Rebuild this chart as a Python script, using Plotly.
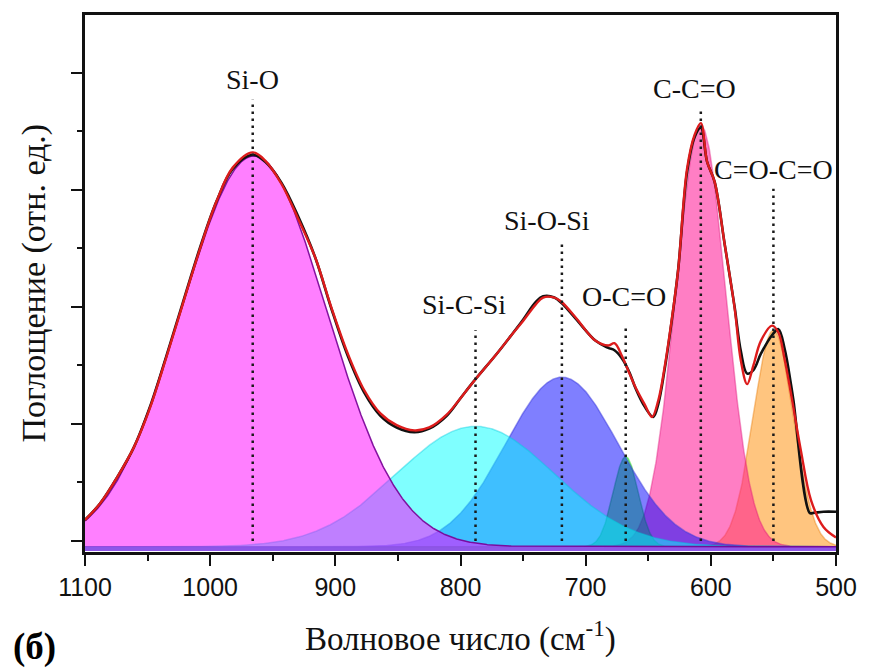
import numpy as np
import plotly.graph_objects as go

# ---------------- data ----------------
# Gaussian components of the peak fit
PEAK_LABELS = ["Si-O", "Si-C-Si", "Si-O-Si", "O-C=O", "C-C=O", "C=O-C=O"]
PEAK_CENTERS = [965, 788, 719, 668, 608, 550]      # cm^-1
PEAK_HEIGHTS = [3.34, 1.03, 1.45, 0.77, 3.60, 1.85]
PEAK_WIDTHS = [58, 63, 45, 10, 20, 16]             # gaussian sigma, cm^-1
MARKER_WN = [966, 788, 719, 668, 608, 550]         # dotted marker positions
COMPONENT_BASE = -0.05
FILL_BASE = -0.085

# fitted envelope (red)
FIT_WN = [1100, 1088, 1074, 1061, 1048, 1035, 1022, 1008, 995, 982, 966, 956, 943, 930,
          916, 903, 890, 877, 864, 851, 837, 825, 811, 800, 789, 771, 760, 750, 740, 734, 725,
          719, 708, 692, 682, 677, 671, 665, 660, 653, 647, 642, 637, 631, 626, 619, 613,
          608, 603, 597, 589, 581, 576, 571, 566, 560, 551, 546, 541, 536, 528, 520, 510, 500]
FIT_VAL = [0.18, 0.32, 0.55, 0.80, 1.14, 1.57, 2.02, 2.50, 2.90, 3.19, 3.32, 3.25, 3.05, 2.76,
           2.42, 1.99, 1.60, 1.29, 1.09, 0.99, 0.945, 0.97, 1.08, 1.22, 1.37, 1.60, 1.75, 1.88, 2.02, 2.08, 2.08,
           2.04, 1.91, 1.71, 1.67, 1.69, 1.58, 1.43, 1.31, 1.17, 1.06, 1.20, 1.48, 1.91, 2.33, 3.18, 3.47,
           3.57, 3.24, 3.07, 2.54, 1.99, 1.54, 1.34, 1.50, 1.71, 1.84, 1.78, 1.55, 1.26, 0.77, 0.35, 0.12, 0.03]

# experimental spectrum (black)
EXP_WN = [1100, 1088, 1074, 1061, 1048, 1035, 1022, 1008, 995, 982, 966, 956, 943, 930,
          916, 903, 890, 877, 864, 851, 837, 825, 811, 800, 789, 771, 760, 750, 740, 734, 725,
          719, 708, 692, 682, 677, 671, 665, 660, 653, 646, 642, 637, 631, 626, 619, 613,
          608, 603, 597, 589, 581, 576, 571, 566, 560, 551, 546, 541, 536, 534, 521, 518, 510, 500]
EXP_VAL = [0.18, 0.32, 0.55, 0.80, 1.15, 1.58, 2.03, 2.51, 2.90, 3.18, 3.30, 3.24, 3.06, 2.78,
           2.42, 1.98, 1.58, 1.27, 1.07, 0.97, 0.93, 0.96, 1.07, 1.22, 1.37, 1.60, 1.75, 1.89, 2.04, 2.09, 2.08,
           2.03, 1.90, 1.71, 1.65, 1.63, 1.56, 1.44, 1.30, 1.15, 1.06, 1.17, 1.46, 1.90, 2.33, 3.15, 3.45,
           3.53, 3.24, 3.07, 2.54, 2.00, 1.62, 1.43, 1.46, 1.60, 1.76, 1.81, 1.64, 1.34, 1.20, 0.24, 0.24, 0.25, 0.25]

# ---------------- styling ----------------
FILL_COLORS = {
    "Si-O": "rgba(255,0,255,0.5)",
    "Si-C-Si": "rgba(0,255,255,0.5)",
    "Si-O-Si": "rgba(0,0,255,0.5)",
    "O-C=O": "rgba(0,255,0,0.5)",
    "C-C=O": "rgba(255,20,147,0.55)",
    "C=O-C=O": "rgba(255,140,0,0.5)",
}
LINE_COLORS = {
    "Si-O": "rgba(120,0,150,0.9)",
    "Si-C-Si": "rgba(0,200,220,0.4)",
    "Si-O-Si": "rgba(60,60,220,0.5)",
    "O-C=O": "rgba(0,200,0,0.4)",
    "C-C=O": "rgba(220,20,120,0.4)",
    "C=O-C=O": "rgba(230,120,0,0.4)",
}
DRAW_ORDER = ["C=O-C=O", "C-C=O", "O-C=O", "Si-O-Si", "Si-C-Si", "Si-O"]
MARKER_TOP = {"Si-O": 3.77, "Si-C-Si": 1.80, "Si-O-Si": 2.54, "O-C=O": 1.82, "C-C=O": 3.69, "C=O-C=O": 3.01}
LABEL_Y = {"Si-O": 3.94, "Si-C-Si": 2.02, "Si-O-Si": 2.74, "O-C=O": 2.09, "C-C=O": 3.87, "C=O-C=O": 3.17}
LABEL_XSHIFT = {"Si-O": 0, "Si-C-Si": -12, "Si-O-Si": -15, "O-C=O": -2, "C-C=O": -6, "C=O-C=O": 0}

SERIF = "Liberation Serif"
SANS = "Liberation Sans"

grid = np.linspace(500, 1100, 1201)

fig = go.Figure()
idx = {name: i for i, name in enumerate(PEAK_LABELS)}
for name in DRAW_ORDER:
    i = idx[name]
    comp = COMPONENT_BASE + PEAK_HEIGHTS[i] * np.exp(-(grid - PEAK_CENTERS[i]) ** 2 / (2 * PEAK_WIDTHS[i] ** 2))
    fig.add_trace(go.Scatter(x=grid, y=np.full_like(grid, FILL_BASE), mode="lines",
                             line=dict(width=0, color="rgba(0,0,0,0)"),
                             showlegend=False, hoverinfo="skip"))
    fig.add_trace(go.Scatter(x=grid, y=comp, mode="lines", fill="tonexty",
                             fillcolor=FILL_COLORS[name],
                             line=dict(width=1.5, color=LINE_COLORS[name]),
                             name=name, showlegend=False))

fig.add_trace(go.Scatter(x=EXP_WN, y=EXP_VAL, mode="lines",
                         line=dict(color="#111111", width=2.6, shape="spline", smoothing=1.0),
                         name="experiment", showlegend=False))
fig.add_trace(go.Scatter(x=FIT_WN, y=FIT_VAL, mode="lines",
                         line=dict(color="#dd1c1c", width=2.4, shape="spline", smoothing=1.0),
                         name="fit", showlegend=False))

for name in PEAK_LABELS:
    i = idx[name]
    fig.add_shape(type="line", x0=MARKER_WN[i], x1=MARKER_WN[i],
                  y0=0, y1=MARKER_TOP[name], xref="x", yref="y", layer="above",
                  line=dict(color="#1a1a1a", width=2.5, dash="2.5px,4.5px"))
    fig.add_annotation(x=MARKER_WN[i], y=LABEL_Y[name],
                       xref="x", yref="y", text=name, showarrow=False,
                       xanchor="center", yanchor="middle", xshift=LABEL_XSHIFT[name],
                       font=dict(family=SERIF, size=28, color="#111111"))

# axis titles and panel letter
fig.add_annotation(x=0.5, y=0, xref="paper", yref="paper", yshift=-84,
                   text="Волновое число (см<sup>-1</sup>)", showarrow=False,
                   xanchor="center", yanchor="middle",
                   font=dict(family=SERIF, size=33, color="#111111"))
fig.add_annotation(x=0, y=0.5, xref="paper", yref="paper", xshift=-52,
                   text="Поглощение (отн. ед.)", showarrow=False, textangle=-90,
                   xanchor="center", yanchor="middle",
                   font=dict(family=SERIF, size=34, color="#111111"))
fig.add_annotation(x=0, y=0, xref="paper", yref="paper", xshift=-74, yshift=-95,
                   text="<b>(б)</b>", showarrow=False,
                   xanchor="left", yanchor="middle",
                   font=dict(family=SERIF, size=37, color="#000000"))

fig.update_layout(
    width=869, height=669,
    margin=dict(l=85, r=26, t=13, b=117),
    paper_bgcolor="white", plot_bgcolor="white",
    showlegend=False,
)
fig.update_xaxes(
    range=[1100, 500], autorange=False,
    tick0=0, dtick=100,
    ticks="outside", ticklen=11, tickwidth=2, tickcolor="#111",
    showline=True, linewidth=2.5, linecolor="#111", mirror=True,
    showgrid=False, zeroline=False,
    tickfont=dict(family=SANS, size=25, color="#111"),
    minor=dict(ticks="outside", ticklen=6, tickwidth=2, tickcolor="#111", dtick=50, showgrid=False),
)
fig.update_yaxes(
    range=[-0.094, 4.494], autorange=False,
    tick0=0, dtick=1, showticklabels=False,
    ticks="outside", ticklen=11, tickwidth=2, tickcolor="#111",
    showline=True, linewidth=2.5, linecolor="#111", mirror=True,
    showgrid=False, zeroline=False,
    minor=dict(ticks="outside", ticklen=5, tickwidth=2, tickcolor="#111", dtick=0.5, showgrid=False),
)

fig.write_html("out.html")
